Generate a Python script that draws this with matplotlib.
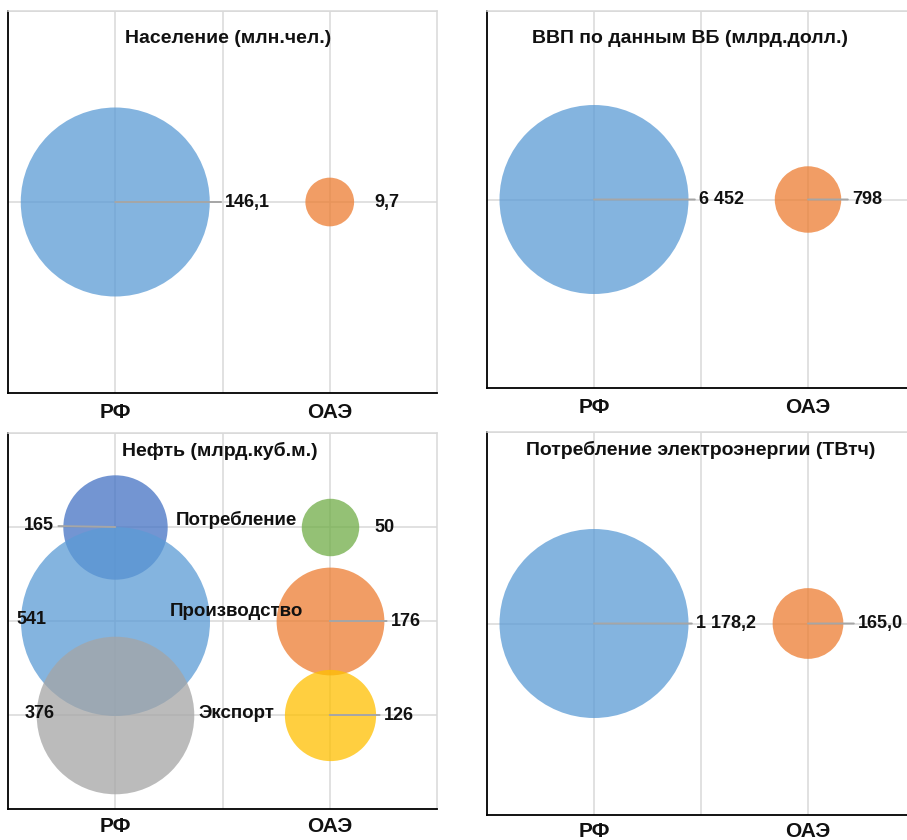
import matplotlib
matplotlib.use("Agg")
import matplotlib.pyplot as plt

plt.rcParams['font.family'] = ['Liberation Sans', 'DejaVu Sans']
plt.rcParams['font.weight'] = 'bold'

W, H = 907, 840
DPI = 100

countries = ["РФ", "ОАЭ"]
country_x = [1, 3]

# Single-series panels
population = [146.1, 9.7]
population_labels = ["146,1", "9,7"]
gdp = [6452, 798]
gdp_labels = ["6 452", "798"]
electricity = [1178.2, 165.0]
electricity_labels = ["1 178,2", "165,0"]

# Oil panel: three indicators per country
oil_indicators = ["Потребление", "Производство", "Экспорт"]
oil_rf = [165, 541, 376]
oil_uae = [50, 176, 126]
oil_rf_labels = ["165", "541", "376"]
oil_uae_labels = ["50", "176", "126"]

titles = ["Население (млн.чел.)", "ВВП по данным ВБ (млрд.долл.)",
          "Нефть (млрд.куб.м.)", "Потребление электроэнергии (ТВтч)"]

BLUE = "#5B9BD5"
ORANGE = "#ED7D31"
DARK_BLUE = "#4472C4"
GRAY = "#A5A5A5"
GREEN = "#70AD47"
GOLD = "#FFC000"
ALPHA = 0.75
LEADER = "#a6a6a6"
GRID = "#d9d9d9"
TXT = "#111111"

TITLE_FS = 14
TICK_FS = 15
VALUE_FS = 13
NAME_FS = 13.5

MAX_DIAM_PT = 189 * 72 / DPI   # largest bubble diameter in points


def px_axes(fig, l, t, r, b):
    return fig.add_axes([l / W, 1 - b / H, (r - l) / W, (b - t) / H])


def style(ax, ymax, yticks, pad=7):
    ax.set_xlim(0, 4)
    ax.set_ylim(0, ymax)
    ax.set_xticks([1, 2, 3])
    ax.set_xticklabels([countries[0], "", countries[1]])
    ax.set_yticks(yticks)
    ax.set_yticklabels([])
    ax.tick_params(length=0, labelsize=TICK_FS, pad=pad, colors=TXT)
    for lbl in ax.get_xticklabels():
        lbl.set_fontweight('bold')
    ax.grid(True, color=GRID, lw=1.1, zorder=0)
    ax.set_axisbelow(True)
    for side in ("top", "right"):
        ax.spines[side].set_color(GRID)
        ax.spines[side].set_linewidth(1.1)
    for side in ("left", "bottom"):
        ax.spines[side].set_color("#000000")
        ax.spines[side].set_linewidth(1.3)


def sizes(values, vmax):
    return [MAX_DIAM_PT ** 2 * v / vmax for v in values]


def value_label(ax, x, y, text, dx, dy=0, leader=False, ha='left'):
    kw = {}
    if leader:
        kw['arrowprops'] = dict(arrowstyle='-', color=LEADER, lw=1.4,
                                shrinkA=1, shrinkB=0,
                                relpos=(0, 0.5) if ha == 'left' else (1, 0.5))
    ax.annotate(text, xy=(x, y), xytext=(dx * 72 / DPI, dy * 72 / DPI),
                textcoords='offset points', ha=ha, va='center',
                fontsize=VALUE_FS, fontweight='bold', color=TXT, zorder=5,
                **kw)


def title(ax, x, y, text):
    ax.text(x, y, text, transform=ax.transAxes, ha='center', va='center',
            fontsize=TITLE_FS, fontweight='bold', color=TXT)


fig = plt.figure(figsize=(W / DPI, H / DPI), dpi=DPI)

# --- Population ---
ax1 = px_axes(fig, 8, 11, 437, 393)
style(ax1, 2, [1, 2])
ax1.scatter(country_x, [1, 1], s=sizes(population, max(population)),
            c=[BLUE, ORANGE], alpha=ALPHA, linewidths=0, zorder=2)
value_label(ax1, 1, 1, population_labels[0], 110, leader=True)
value_label(ax1, 3, 1, population_labels[1], 45)
title(ax1, 0.513, 0.928, titles[0])

# --- GDP ---
ax2 = px_axes(fig, 487, 11, 915, 388)
style(ax2, 2, [1, 2])
ax2.scatter(country_x, [1, 1], s=sizes(gdp, max(gdp)),
            c=[BLUE, ORANGE], alpha=ALPHA, linewidths=0, zorder=2)
value_label(ax2, 1, 1, gdp_labels[0], 105, leader=True)
value_label(ax2, 3, 1, gdp_labels[1], 44, leader=True)
title(ax2, 0.474, 0.927, titles[1])

# --- Oil ---
ax3 = px_axes(fig, 8, 433, 437, 809)
style(ax3, 4, [1, 2, 3, 4], pad=6)
oil_y = [3, 2, 1]
vmax = max(oil_rf + oil_uae)
rf_colors = [DARK_BLUE, BLUE, GRAY]
uae_colors = [GREEN, ORANGE, GOLD]
for i in range(3):
    ax3.scatter([country_x[0]], [oil_y[i]], s=sizes([oil_rf[i]], vmax),
                c=[rf_colors[i]], alpha=ALPHA, linewidths=0, zorder=2)
    ax3.scatter([country_x[1]], [oil_y[i]], s=sizes([oil_uae[i]], vmax),
                c=[uae_colors[i]], alpha=ALPHA, linewidths=0, zorder=2)
rf_dx = [-61, -69, -61]
uae_dx = [45, 61, 54]
rf_leader = [True, False, False]
uae_leader = [False, True, True]
for i in range(3):
    value_label(ax3, 1, oil_y[i], oil_rf_labels[i], rf_dx[i], dy=1,
                leader=rf_leader[i], ha='right')
    value_label(ax3, 3, oil_y[i], oil_uae_labels[i], uae_dx[i],
                leader=uae_leader[i])
name_dy = [7, 9, 1]
for i in range(3):
    ax3.annotate(oil_indicators[i], xy=(2.13, oil_y[i]),
                 xytext=(0, name_dy[i] * 72 / DPI), textcoords='offset points',
                 ha='center', va='center', fontsize=NAME_FS, fontweight='bold',
                 color=TXT, zorder=5)
title(ax3, 0.494, 0.952, titles[2])

# --- Electricity ---
ax4 = px_axes(fig, 487, 432, 915, 815)
style(ax4, 2, [1, 2], pad=5)
ax4.scatter(country_x, [1, 1], s=sizes(electricity, max(electricity)),
            c=[BLUE, ORANGE], alpha=ALPHA, linewidths=0, zorder=2)
value_label(ax4, 1, 1, electricity_labels[0], 102, leader=True)
value_label(ax4, 3, 1, electricity_labels[1], 50, leader=True)
title(ax4, 0.5, 0.953, titles[3])

fig.savefig("out.png", dpi=DPI)
